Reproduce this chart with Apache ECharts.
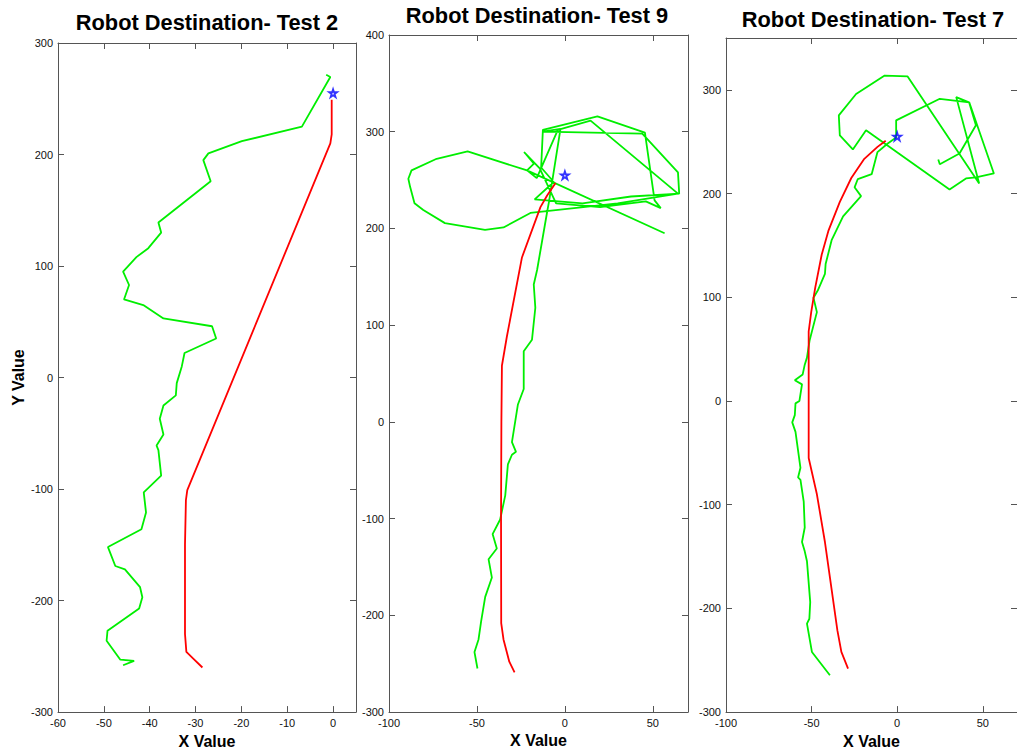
<!DOCTYPE html>
<html>
<head>
<meta charset="utf-8">
<script src="https://cdn.jsdelivr.net/npm/echarts@6/dist/echarts.min.js"></script>
<style>
html,body{margin:0;padding:0;background:#fff;}
#chart{width:1017px;height:754px;}
</style>
</head>
<body>
<div id="chart"></div>
<script>
// ---- data (x, y) ----
var titles = ['Robot Destination- Test 2', 'Robot Destination- Test 9', 'Robot Destination- Test 7'];

var test2Green = [[-45.8,-258],[-43.4,-254],[-46.4,-253],[-49.4,-236],[-49.2,-227],[-42.3,-207],[-41.6,-197],[-42.1,-188],[-45.4,-172],[-47.5,-169],[-49.1,-152],[-41.8,-136],[-40.8,-121],[-41.3,-103],[-37.5,-88],[-38.1,-65],[-38.5,-61],[-37.0,-51],[-37.8,-37],[-37.0,-25],[-34.3,-16],[-34.1,-5],[-33.0,10],[-32.4,22],[-25.5,35],[-26.4,46],[-37.0,53],[-41.4,65],[-45.6,70],[-44.5,83],[-45.8,95],[-42.9,108],[-40.3,116],[-37.5,130],[-38.1,139],[-26.7,176],[-28.3,195],[-27.2,201],[-19.9,212],[-6.8,225],[-0.6,269.5],[-1.5,271.5]];
var test2Red = [[-28.5,-260],[-30.5,-252],[-32,-246],[-32.3,-230],[-32.3,-150],[-32.1,-110],[-31.8,-101],[-0.6,210],[-0.3,218],[-0.3,249]];

var test9Green = [[-49.7,-255],[-51.4,-238],[-49.1,-225],[-47.6,-206],[-45.3,-181],[-41.5,-161],[-43.4,-142],[-38.7,-131],[-41.1,-116],[-36.8,-101],[-33.9,-76],[-32.4,-44],[-30.1,-34],[-27.8,-31],[-30.1,-21],[-26.7,18],[-23.4,34],[-23.4,73],[-18.7,85],[-16.8,118],[-17.7,142],[-15.8,157],[-10.1,217],[-9.1,227],[-2.5,303],[-12.7,300],[44,298],[64.3,258],[65,236],[37.6,233],[10,226],[-17.2,230],[-6.3,248],[-13.5,263],[-12.5,302],[18.5,315.8],[45.5,299],[51,229],[54.5,221],[46,228],[20,222],[-5,226],[-14.3,262],[-23.2,279],[-17.6,267],[-21.5,260],[-16,252],[-4,302],[14.6,311.5],[64.3,236],[30,226],[0,220],[-19.6,216],[-34.9,201],[-45.4,198.6],[-68.2,205.5],[-80.5,219],[-85.5,226],[-88,243],[-89,251.4],[-87.2,260],[-72.9,272],[-55.3,279.6],[-21.5,260],[56.7,195]];
var test9Red = [[-28.6,-259],[-31.6,-248],[-34.9,-225],[-36.2,-208],[-36.3,-100],[-36.1,0],[-35.8,58],[-33,88],[-24.4,170],[-13.9,222],[-10.1,234],[-5.3,247]];

var test7Green = [[-39.3,-264.5],[-49.8,-242],[-52.7,-214.6],[-51.3,-210],[-50.8,-194],[-52.7,-154.5],[-54,-145],[-55.6,-136],[-54,-122],[-54.6,-97],[-56.5,-76],[-57.9,-73.7],[-56.5,-64.4],[-59.4,-29.8],[-61.3,-20.6],[-59.8,-13.6],[-59.4,-2.3],[-57.1,0],[-55.6,16],[-59.8,20],[-55.2,25.6],[-54,35],[-52.7,41.8],[-51.2,58],[-46.9,85.7],[-48.9,99.5],[-46.4,106.5],[-42.2,122.6],[-41.8,132],[-38.3,155],[-31.6,178],[-26.8,187],[-21.1,197.5],[-24.9,206],[-23,214],[-14.9,218.7],[-11.5,240],[-5.7,248],[-0.6,254],[-0.6,270.6],[24.9,291.4],[42.1,288],[56.5,219.4],[46,215.6],[40.2,214.6],[30.6,204],[-18.2,261],[-25.9,242.5],[-33.5,256],[-34.1,275.4],[-24,296],[-7.3,313.8],[6.1,312.9],[47.9,209.8],[34.5,293],[42,288],[46,265.8],[36.4,238.6],[24.9,228.3],[24,232.8]];
var test7Red = [[-28.7,-258],[-32.6,-242],[-34.9,-221.5],[-42.2,-136],[-46.9,-90],[-51.7,-55],[-51.7,67],[-50.2,86],[-47.9,109],[-44.1,141],[-40.2,164],[-33.5,192],[-26.8,215],[-19.2,233.5],[-11.5,245],[-6.7,251]];

var destination = [[0,255]];

// axis ranges: [min, max, interval]
var xRanges = [[-60,5,10],[-100,70,50],[-100,70,50]];
var yRanges = [[-300,300,100],[-300,400,100],[-300,350,100]];

var greens = [test2Green, test9Green, test7Green];
var reds = [test2Red, test9Red, test7Red];

// ---- layout ----
var grids = [
  {left:58, top:43, width:298, height:675},
  {left:389, top:35, width:299, height:677},
  {left:726, top:38, width:296, height:676}
];
var titlePos = [[207,22],[537,15],[873,19]];

var FONT = 'Liberation Sans, Arial, sans-serif';
var axisColor = '#555';

function labelStyle(range){
  return {show:true, fontSize:11, color:'#111', fontFamily:FONT, margin:5,
          showMinLabel:true, showMaxLabel: (range[1] % range[2] === 0)};
}

var xAxes = [], yAxes = [], series = [];
for (var i = 0; i < 3; i++) {
  var xr = xRanges[i], yr = yRanges[i];
  xAxes.push({
    gridIndex:i, type:'value', position:'bottom', min:xr[0], max:xr[1], interval:xr[2],
    axisLine:{show:true, onZero:false, lineStyle:{color:axisColor, width:1}},
    axisTick:{show:true, inside:true, length:6, lineStyle:{color:axisColor}},
    axisLabel:labelStyle(xr), splitLine:{show:false},
    name:'X Value', nameLocation:'middle', nameGap:18,
    nameTextStyle:{fontSize:16, fontWeight:'bold', color:'#000', fontFamily:FONT}
  });
  xAxes.push({
    gridIndex:i, type:'value', position:'top', min:xr[0], max:xr[1], interval:xr[2],
    axisLine:{show:true, onZero:false, lineStyle:{color:axisColor, width:1}},
    axisTick:{show:true, inside:true, length:6, lineStyle:{color:axisColor}},
    axisLabel:{show:false}, splitLine:{show:false}
  });
  var ya = {
    gridIndex:i, type:'value', position:'left', min:yr[0], max:yr[1], interval:yr[2],
    axisLine:{show:true, onZero:false, lineStyle:{color:axisColor, width:1}},
    axisTick:{show:true, inside:true, length:6, lineStyle:{color:axisColor}},
    axisLabel:labelStyle(yr), splitLine:{show:false}
  };
  if (i === 0) {
    ya.name = 'Y Value'; ya.nameLocation = 'middle'; ya.nameGap = 32; ya.nameRotate = 90;
    ya.nameTextStyle = {fontSize:16, fontWeight:'bold', color:'#000', fontFamily:FONT};
  }
  yAxes.push(ya);
  yAxes.push({
    gridIndex:i, type:'value', position:'right', min:yr[0], max:yr[1], interval:yr[2],
    axisLine:{show:true, onZero:false, lineStyle:{color:axisColor, width:1}},
    axisTick:{show:true, inside:true, length:6, lineStyle:{color:axisColor}},
    axisLabel:{show:false}, splitLine:{show:false}
  });

  series.push({
    type:'line', xAxisIndex:2*i, yAxisIndex:2*i, data:greens[i], showSymbol:false,
    lineStyle:{color:'#00ee00', width:1.8}, z:2, silent:true
  });
  series.push({
    type:'line', xAxisIndex:2*i, yAxisIndex:2*i, data:reds[i], showSymbol:false,
    lineStyle:{color:'#ff0000', width:1.8}, z:3, silent:true
  });
  series.push({
    type:'scatter', xAxisIndex:2*i, yAxisIndex:2*i, data:destination,
    symbol:'path://M10 0 L12.245 6.91 L19.51 6.91 L13.63 11.18 L15.88 18.09 L10 13.82 L4.12 18.09 L6.37 11.18 L0.49 6.91 L7.755 6.91 Z',
    symbolSize:8, itemStyle:{color:'rgba(255,255,255,0)', borderColor:'#0000ff', borderWidth:1.8}, z:4, silent:true
  });
}

var graphics = titles.map(function(t, k){
  return {type:'text', x:titlePos[k][0], y:titlePos[k][1], z:10,
    style:{text:t, textAlign:'center', textVerticalAlign:'middle',
           font:'bold 21.8px ' + FONT, fill:'#000'}};
});

var chart = echarts.init(document.getElementById('chart'), null, {renderer:'svg'});
chart.setOption({
  animation:false,
  backgroundColor:'#ffffff',
  grid:grids,
  xAxis:xAxes,
  yAxis:yAxes,
  series:series,
  graphic:graphics
});
</script>
</body>
</html>
